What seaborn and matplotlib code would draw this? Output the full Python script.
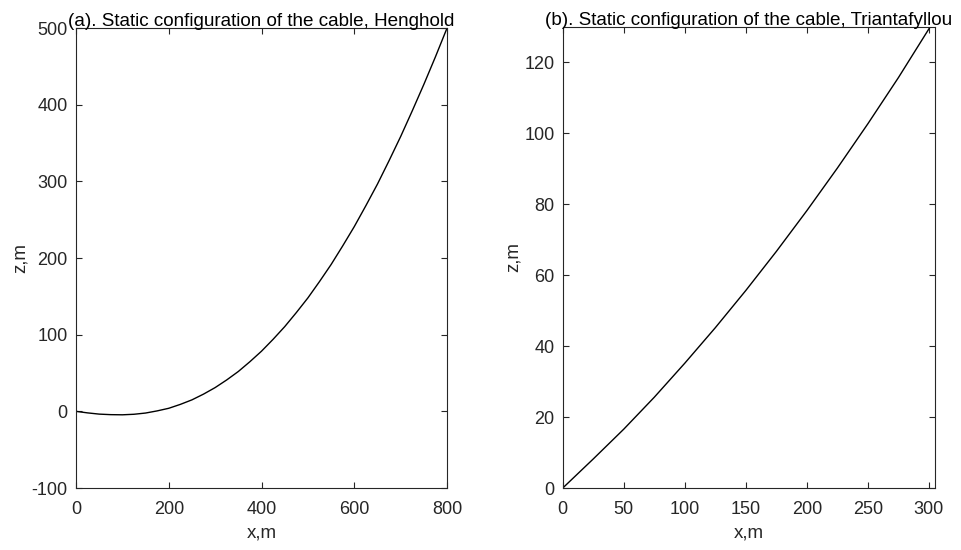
import matplotlib
matplotlib.use("Agg")
import matplotlib.pyplot as plt
import seaborn as sns
import pandas as pd

# Panel (a): Henghold cable static configuration
xa = [0, 25, 50, 75, 100, 125, 150, 175, 200, 225, 250, 275, 300, 325, 350, 375, 400,
      425, 450, 475, 500, 525, 550, 575, 600, 625, 650, 675, 700, 725, 750, 775, 800]
za = [0, -2.0, -3.6, -4.3, -4.5, -3.8, -2.2, 0.6, 4.0, 9.1, 15.0, 22.5, 31.0, 41.0, 52.0, 64.8, 78.5,
      94.0, 110.5, 128.8, 148.0, 169.3, 191.5, 215.8, 241.0, 268.3, 296.5, 327.0, 358.5, 392.0, 426.5, 462.5, 500.0]

# Panel (b): Triantafyllou cable static configuration
xb = [0, 25, 50, 75, 100, 125, 150, 175, 200, 225, 250, 275, 301]
zb = [0, 8.2, 16.6, 25.6, 35.2, 45.2, 55.7, 66.7, 78.2, 90.2, 102.7, 115.7, 130]

titles = ["(a). Static configuration of the cable, Henghold",
          "(b). Static configuration of the cable, Triantafyllou"]
xticks_a = [0, 200, 400, 600, 800]
yticks_a = [-100, 0, 100, 200, 300, 400, 500]
xticks_b = [0, 50, 100, 150, 200, 250, 300]
yticks_b = [0, 20, 40, 60, 80, 100, 120]

sns.set_style("white")
plt.rcParams['font.family'] = ['Liberation Sans', 'DejaVu Sans']

fig = plt.figure(figsize=(9.62, 5.5), dpi=100)
ax1 = fig.add_axes([0.079, 0.1127, 0.3857, 0.8363])
ax2 = fig.add_axes([0.585, 0.1127, 0.387, 0.8385])

dfa = pd.DataFrame({"x": xa, "z": za})
dfb = pd.DataFrame({"x": xb, "z": zb})
sns.lineplot(data=dfa, x="x", y="z", ax=ax1, color="black", linewidth=1.0, sort=False)
sns.lineplot(data=dfb, x="x", y="z", ax=ax2, color="black", linewidth=1.0, sort=False)

tc = "#262626"
for ax, t, xt, yt, xl, yl in [(ax1, titles[0], xticks_a, yticks_a, (0, 800), (-100, 500)),
                              (ax2, titles[1], xticks_b, yticks_b, (0, 305), (0, 130))]:
    ax.set_xlim(*xl)
    ax.set_ylim(*yl)
    ax.set_xticks(xt)
    ax.set_yticks(yt)
    ax.set_xticklabels([str(v) for v in xt])
    ax.set_yticklabels([str(v) for v in yt])
    ax.set_xlabel("x,m", fontsize=13.5, color=tc, labelpad=5)
    ax.set_ylabel("z,m", fontsize=13.5, color=tc, labelpad=2)
    ax.set_title(t, fontsize=13.6, color="black", pad=1.5)
    ax.tick_params(direction="in", length=4, width=0.8, colors=tc, labelsize=13,
                   top=True, right=True, bottom=True, left=True)
    ax.tick_params(axis="y", pad=6)
    ax.tick_params(axis="x", pad=9)
    for s in ax.spines.values():
        s.set_visible(True)
        s.set_color("#262626")
        s.set_linewidth(0.8)
    ax.grid(False)

fig.savefig("out.png", dpi=100)
